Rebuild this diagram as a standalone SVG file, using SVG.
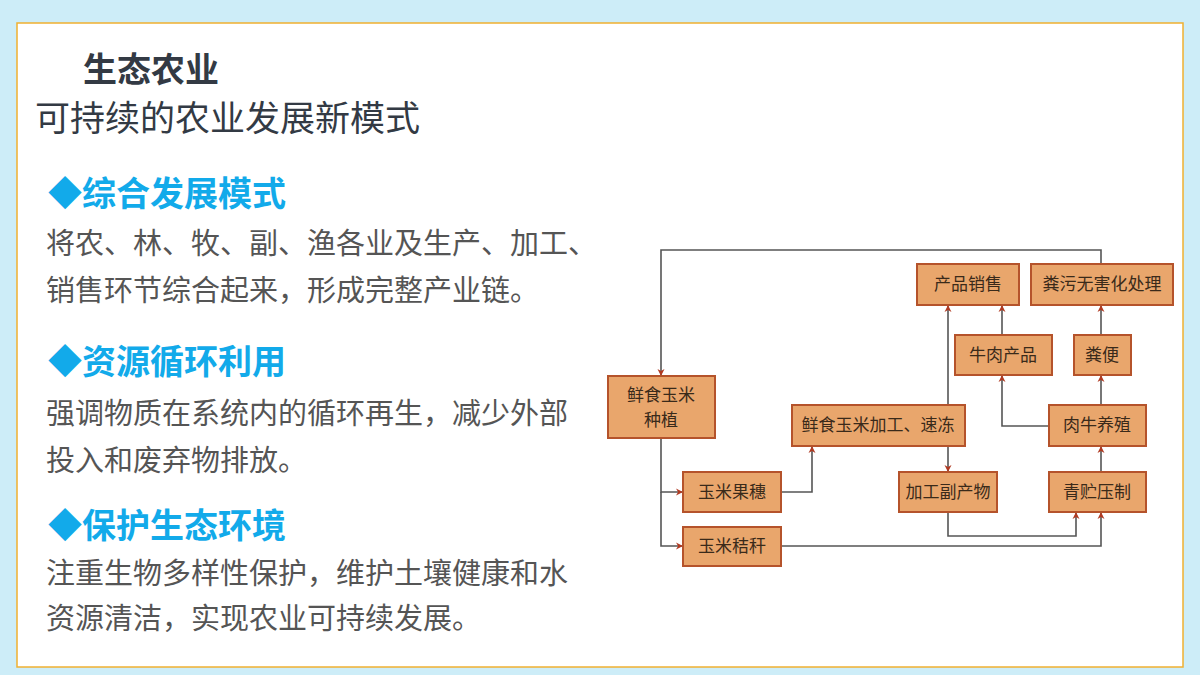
<svg xmlns="http://www.w3.org/2000/svg" width="1200" height="675" viewBox="0 0 1200 675">
<style>
.t{font-family:"Noto Sans CJK SC","Noto Sans",sans-serif}
.h{font-family:"Noto Sans CJK SC",sans-serif;font-weight:bold;font-size:34px;fill:#12aaea}
.b{font-family:"Noto Sans CJK SC",sans-serif;font-size:29px;fill:#555}
.n rect{fill:#e9a66c;stroke:#b5532b;stroke-width:2}
.n text{font-family:"Noto Sans CJK SC",sans-serif;font-size:17px;fill:#3a2a1a;text-anchor:middle}
.c path{fill:none;stroke:#555;stroke-width:1.6;marker-end:url(#a)}
</style>
<defs><marker id="a" viewBox="0 0 10 10" refX="10" refY="5" markerWidth="7" markerHeight="9" orient="auto" markerUnits="userSpaceOnUse"><path d="M0,0L10,5L0,10L3,5z" fill="#b03a22"/></marker></defs>
<rect width="1200" height="675" fill="#cdedf8"/>
<rect x="17" y="23" width="1166" height="644" fill="#fff" stroke="#f0b030" stroke-width="1.5"/>
<text class="t" x="83" y="82" font-size="34" font-weight="bold" fill="#333a44">生态农业</text>
<text class="t" x="35" y="131" font-size="35" fill="#333a44">可持续的农业发展新模式</text>
<text class="h" x="48" y="206">◆综合发展模式</text>
<text class="b" x="46" y="254">将农、林、牧、副、渔各业及生产、加工、</text>
<text class="b" x="46" y="301">销售环节综合起来，形成完整产业链。</text>
<text class="h" x="48" y="374">◆资源循环利用</text>
<text class="b" x="46" y="424">强调物质在系统内的循环再生，减少外部</text>
<text class="b" x="46" y="471">投入和废弃物排放。</text>
<text class="h" x="48" y="538">◆保护生态环境</text>
<text class="b" x="46" y="584">注重生物多样性保护，维护土壤健康和水</text>
<text class="b" x="46" y="629">资源清洁，实现农业可持续发展。</text>
<g class="c">
<path d="M1101,264V250H661V376"/>
<path d="M661,438V492H683"/>
<path d="M661,492V546H683"/>
<path d="M781,492H812V446"/>
<path d="M948,405V305"/>
<path d="M948,446V472"/>
<path d="M948,512V536H1076V512"/>
<path d="M781,546H1101V512"/>
<path d="M1101,472V446"/>
<path d="M1049,426H1002V375"/>
<path d="M1002,335V305"/>
<path d="M1101,405V375"/>
<path d="M1101,335V305"/>
</g>
<g class="n" id="n1"><rect x="608" y="376" width="107" height="62"/><text x="661" y="401">鲜食玉米</text><text x="661" y="426">种植</text></g>
<g class="n" id="n2"><rect x="683" y="472" width="98" height="40"/><text x="732" y="498">玉米果穗</text></g>
<g class="n" id="n3"><rect x="683" y="527" width="98" height="39"/><text x="732" y="552">玉米秸秆</text></g>
<g class="n" id="n4"><rect x="792" y="405" width="173" height="41"/><text x="878" y="431">鲜食玉米加工、速冻</text></g>
<g class="n" id="n5"><rect x="899" y="472" width="98" height="40"/><text x="948" y="498">加工副产物</text></g>
<g class="n" id="n6"><rect x="1049" y="472" width="97" height="40"/><text x="1097" y="498">青贮压制</text></g>
<g class="n" id="n7"><rect x="1049" y="405" width="97" height="41"/><text x="1097" y="431">肉牛养殖</text></g>
<g class="n" id="n8"><rect x="1074" y="335" width="57" height="40"/><text x="1102" y="361">粪便</text></g>
<g class="n" id="n9"><rect x="955" y="335" width="97" height="40"/><text x="1003" y="361">牛肉产品</text></g>
<g class="n" id="n10"><rect x="917" y="264" width="102" height="41"/><text x="968" y="290">产品销售</text></g>
<g class="n" id="n11"><rect x="1031" y="264" width="142" height="41"/><text x="1102" y="290">粪污无害化处理</text></g>
</svg>
